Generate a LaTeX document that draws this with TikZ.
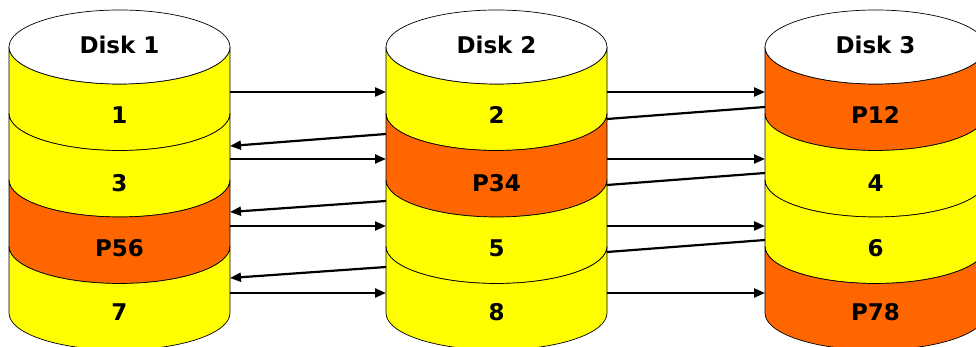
\documentclass[tikz,border=0pt]{standalone}
\usepackage{fontspec}
\setmainfont{DejaVu Sans}
\usetikzlibrary{arrows.meta}
\definecolor{dyel}{HTML}{FFFF00}
\definecolor{dora}{HTML}{FF6600}
\tikzset{
  lbl/.style={font=\bfseries\fontsize{23}{25}\selectfont, inner sep=0pt},
  outline/.style={draw=black, line width=0.7pt},
  conn/.style={line width=2.2pt, -{Triangle[length=11pt,width=9pt]}},
  plainconn/.style={line width=2.2pt},
}
% band: cx, Ytop, Ybottom, colour
\newcommand\diskband[4]{%
  \filldraw[outline, fill=#4] (#1-110.5,#2) arc[start angle=180,end angle=360,x radius=110.5,y radius=37]
    -- (#1+110.5,#3) arc[start angle=0,end angle=-180,x radius=110.5,y radius=37] -- cycle;}
% whole disk: cx, four colours
\newcommand\diskbody[5]{%
  \diskband{#1}{300}{233.5}{#2}
  \diskband{#1}{233.5}{167}{#3}
  \diskband{#1}{167}{100.5}{#4}
  \diskband{#1}{100.5}{34}{#5}
  \filldraw[outline, fill=white] (#1,300) ellipse[x radius=110.5, y radius=37];}
\begin{document}
\begin{tikzpicture}[x=1pt,y=1pt]
\clip (0,0) rectangle (976,347);
\useasboundingbox (0,0) rectangle (976,347);
\diskbody{119.5}{dyel}{dyel}{dora}{dyel}
\diskbody{496.5}{dyel}{dora}{dyel}{dyel}
\diskbody{875.5}{dora}{dyel}{dyel}{dora}
% labels
\node[lbl] (t1) at (119.5,302) {Disk 1};
\node[lbl] (t2) at (496.5,302) {Disk 2};
\node[lbl] (t3) at (875.5,302) {Disk 3};
\node[lbl] (a1) at (119.5,232) {1};
\node[lbl] (a2) at (119.5,164) {3};
\node[lbl] (a3) at (119.5,99) {P56};
\node[lbl] (a4) at (119.5,35) {7};
\node[lbl] (b1) at (496.5,232) {2};
\node[lbl] (b2) at (496.5,164) {P34};
\node[lbl] (b3) at (496.5,99) {5};
\node[lbl] (b4) at (496.5,35) {8};
\node[lbl] (c1) at (875.5,232) {P12};
\node[lbl] (c2) at (875.5,164) {4};
\node[lbl] (c3) at (875.5,99) {6};
\node[lbl] (c4) at (875.5,35) {P78};
% connector end points on the disk sides
\foreach \i/\y in {1/255,2/188,3/121,4/54}{
  \coordinate (r1s\i) at (230,\y);
  \coordinate (r1e\i) at (386,\y);
  \coordinate (r2s\i) at (607,\y);
  \coordinate (r2e\i) at (765,\y);
}
\foreach \i/\ys/\ye in {1/213/201,2/146/135,3/80/69}{
  \coordinate (l1s\i) at (386,\ys);
  \coordinate (l1e\i) at (230,\ye);
}
\foreach \i/\ys/\ye in {1/228/240,2/162/174,3/95/107}{
  \coordinate (p2s\i) at (607,\ys);
  \coordinate (p2e\i) at (765,\ye);
}
\foreach \i in {1,2,3,4}{
  \draw[conn] (r1s\i) -- (r1e\i);
  \draw[conn] (r2s\i) -- (r2e\i);
}
\foreach \i in {1,2,3}{
  \draw[conn] (l1s\i) -- (l1e\i);
  \draw[plainconn] (p2s\i) -- (p2e\i);
}
\end{tikzpicture}
\end{document}
